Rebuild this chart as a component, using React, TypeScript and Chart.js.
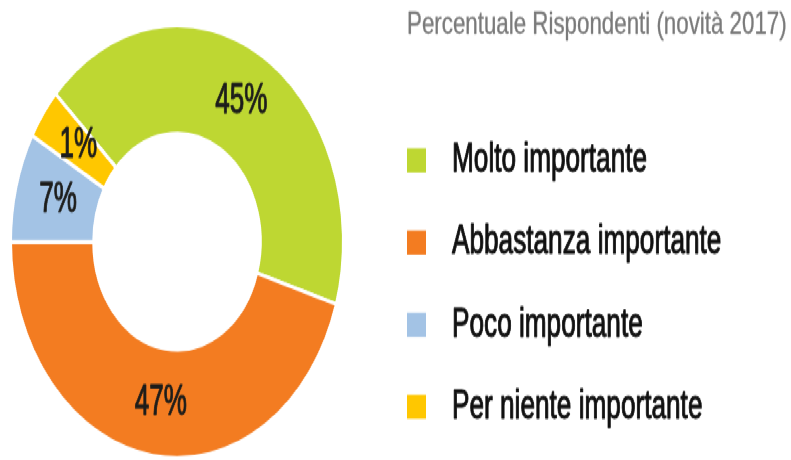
import React, { useEffect, useRef } from 'react';
import { Chart, registerables } from 'chart.js';

Chart.register(...registerables);

// Categories (legend order)
const categories = [
  'Molto importante',
  'Abbastanza importante',
  'Poco importante',
  'Per niente importante',
];
// Slice sizes as drawn in the picture (share of the ring, %)
const sliceShares = [42.7, 45.3, 8.2, 3.8];
// Percent labels printed on the slices
const percentLabels = ['45%', '47%', '7%', '1%'];
const sliceColors = ['#BED732', '#F37C21', '#A3C3E5', '#FFC700'];
const legendTitle = 'Percentuale Rispondenti (novità 2017)';

const W = 791;
const H = 354;
const SCALE_Y = 460 / H;
const FONT = '"Liberation Sans", Arial, sans-serif';

function condensedText(
  ctx: CanvasRenderingContext2D,
  text: string,
  x: number,
  y: number,
  sx: number,
  weight: number
) {
  ctx.save();
  ctx.translate(x, y);
  ctx.scale(sx, 1);
  ctx.fillText(text, 0, 0);
  if (weight > 0) {
    ctx.lineWidth = weight;
    ctx.strokeStyle = ctx.fillStyle;
    ctx.lineJoin = 'round';
    ctx.strokeText(text, 0, 0);
  }
  ctx.restore();
}

const sliceLabelPlugin = {
  id: 'sliceLabels',
  afterDatasetsDraw(chart: any) {
    const ctx = chart.ctx as CanvasRenderingContext2D;
    const meta = chart.getDatasetMeta(0);
    ctx.save();
    ctx.font = `33px ${FONT}`;
    ctx.fillStyle = '#1d1d1b';
    ctx.textAlign = 'center';
    ctx.textBaseline = 'middle';
    meta.data.forEach((arc: any, i: number) => {
      const p = arc.getCenterPoint();
      condensedText(ctx, percentLabels[i], p.x + 2, p.y, 0.79, 0.9);
    });
    ctx.restore();
  },
};

const sideLegendPlugin = {
  id: 'sideLegend',
  afterDraw(chart: any) {
    const ctx = chart.ctx as CanvasRenderingContext2D;
    const x0 = 407;
    ctx.save();
    ctx.textAlign = 'left';
    ctx.textBaseline = 'alphabetic';
    ctx.font = `24px ${FONT}`;
    ctx.fillStyle = '#7a7a7a';
    condensedText(ctx, legendTitle, x0, 25.6, 0.93, 0.3);
    ctx.font = `31px ${FONT}`;
    const colors = chart.data.datasets[0].backgroundColor as string[];
    (chart.data.labels as string[]).forEach((label: string, i: number) => {
      const cy = 123.5 + i * 63.2;
      ctx.fillStyle = colors[i];
      ctx.fillRect(x0, cy - 9.25, 19, 18.5);
      ctx.fillStyle = '#111111';
      condensedText(ctx, label, 452, cy + 8.6, 0.845, 0.9);
    });
    ctx.restore();
  },
};

export default function App() {
  const ref = useRef<HTMLCanvasElement>(null);
  useEffect(() => {
    document.documentElement.style.overflow = 'hidden';
    const chart = new Chart(ref.current as HTMLCanvasElement, {
      type: 'doughnut',
      data: {
        labels: categories,
        datasets: [
          {
            data: sliceShares,
            backgroundColor: sliceColors,
            borderColor: '#ffffff',
            borderWidth: 3,
          },
        ],
      },
      options: {
        responsive: true,
        maintainAspectRatio: false,
        animation: false,
        events: [],
        rotation: 313.1,
        cutout: '50%',
        layout: { padding: { left: 9, right: 446, top: 18, bottom: 0 } },
        plugins: {
          legend: { display: false },
          tooltip: { enabled: false },
          title: { display: false },
        },
      },
      plugins: [sliceLabelPlugin, sideLegendPlugin],
    } as any);
    return () => chart.destroy();
  }, []);
  return (
    <div
      style={{
        position: 'absolute',
        left: 0,
        top: 0,
        width: W,
        height: H,
        transform: `scaleY(${SCALE_Y})`,
        transformOrigin: '0 0',
        background: '#ffffff',
      }}
    >
      <canvas ref={ref} />
    </div>
  );
}
